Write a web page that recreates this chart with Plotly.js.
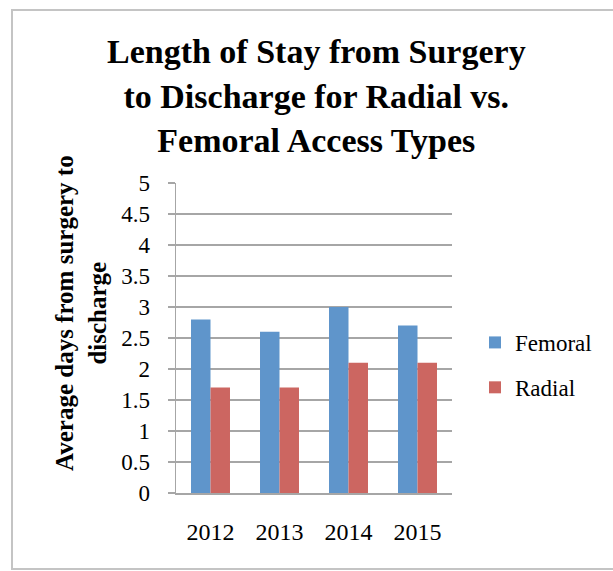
<!DOCTYPE html>
<html>
<head>
<meta charset="utf-8">
<script src="https://cdn.plot.ly/plotly-3.0.1.min.js"></script>
<style>
  html, body { margin: 0; padding: 0; background: #ffffff; }
  #wrap { position: relative; width: 613px; height: 571px; overflow: hidden; }
  #chart { width: 613px; height: 571px; }
  #frame { position: absolute; left: 11px; top: 9px; width: 640px; height: 557px;
           border: 2px solid #c4c4c4; pointer-events: none; }
</style>
</head>
<body>
<div id="wrap">
  <div id="chart"></div>
  <div id="frame"></div>
</div>
<script>
const years = ['2012', '2013', '2014', '2015'];
const femoral = [2.8, 2.6, 3.0, 2.7];
const radial = [1.7, 1.7, 2.1, 2.1];
const yTicks = [0, 0.5, 1, 1.5, 2, 2.5, 3, 3.5, 4, 4.5, 5];
const yTickLabels = ['0', '0.5', '1', '1.5', '2', '2.5', '3', '3.5', '4', '4.5', '5'];

const serif = 'Liberation Serif, Times New Roman, serif';

const traces = [
  { type: 'bar', name: 'Femoral', x: years, y: femoral, legendgroup: 'a',
    marker: { color: '#5F95CB', line: { width: 0 } } },
  { type: 'bar', name: 'Radial', x: years, y: radial, legendgroup: 'b',
    marker: { color: '#CC6661', line: { width: 0 } } }
];

const layout = {
  width: 613, height: 571,
  paper_bgcolor: '#ffffff', plot_bgcolor: '#ffffff',
  margin: { l: 176, r: 161, t: 183, b: 78 },
  barmode: 'group', bargap: 0.435, bargroupgap: 0,
  title: {
    text: 'Length of Stay from Surgery<br>to Discharge for Radial vs.<br>Femoral Access Types',
    font: { family: serif, size: 34, color: '#000000', weight: 'bold' },
    xref: 'container', x: 0.516, xanchor: 'center',
    yref: 'container', y: 0.889, yanchor: 'top'
  },
  xaxis: {
    type: 'category',
    showline: true, linecolor: '#a6a6a6', linewidth: 1.5,
    ticks: '', showgrid: false,
    tickfont: { family: serif, size: 24, color: '#000000' },
    ticklabelstandoff: 17
  },
  yaxis: {
    range: [0, 5], tickvals: yTicks, ticktext: yTickLabels,
    showline: true, linecolor: '#a6a6a6', linewidth: 1.5,
    ticks: 'outside', ticklen: 7, tickcolor: '#a6a6a6', tickwidth: 1.5,
    showgrid: true, gridcolor: '#a6a6a6', gridwidth: 1.5,
    zeroline: false,
    tickfont: { family: serif, size: 23, color: '#000000' },
    ticklabelstandoff: 13
  },
  showlegend: true,
  legend: {
    x: 1.0833, xanchor: 'left', y: 0.413, yanchor: 'middle',
    traceorder: 'grouped', tracegroupgap: 12,
    font: { family: serif, size: 23, color: '#000000' },
    bgcolor: 'rgba(0,0,0,0)', itemwidth: 30
  },
  annotations: [{
    text: '<b>Average days from surgery to<br>discharge</b>',
    textangle: -90, showarrow: false,
    xref: 'paper', yref: 'paper',
    x: (81 - 176) / 276, xanchor: 'center',
    y: (571 - 78 - 313) / 310, yanchor: 'middle',
    font: { family: serif, size: 25, color: '#000000' }
  }]
};

Plotly.newPlot('chart', traces, layout, { displayModeBar: false, staticPlot: true });
</script>
</body>
</html>
